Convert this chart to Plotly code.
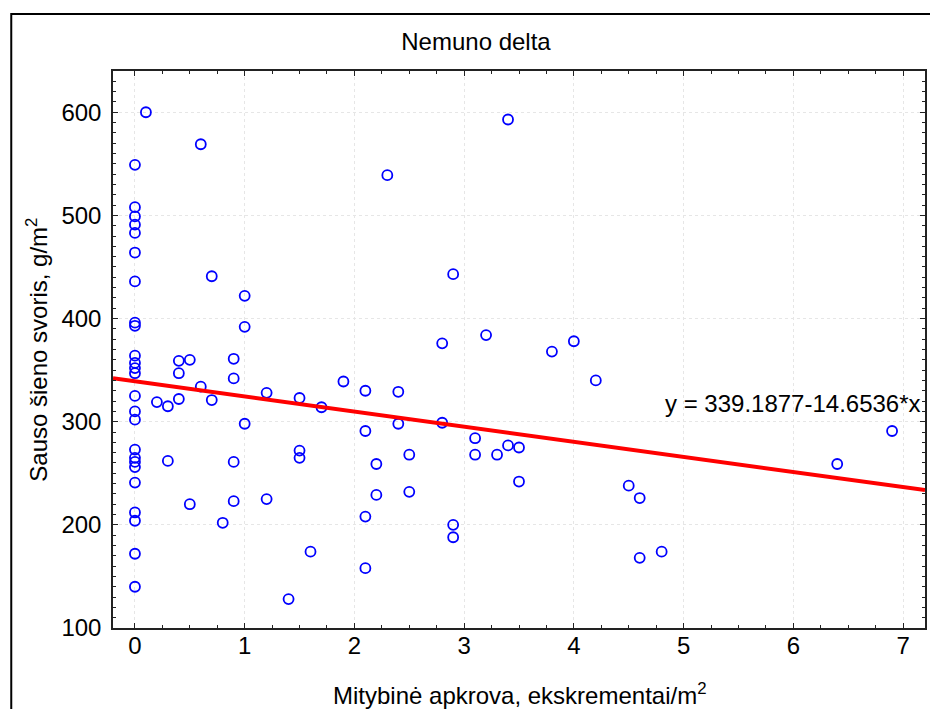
import plotly.graph_objects as go

# ---- data ----
x_vals = [0]*25 + [
    0.1, 0.6, 0.2, 0.3, 0.3, 0.4, 0.4, 0.4, 0.5, 0.5, 0.6, 0.7, 0.7, 0.8,
    0.9, 0.9, 0.9, 0.9, 1.0, 1.0, 1.0, 1.2, 1.2, 1.4, 1.5, 1.5, 1.5, 1.6,
    1.7, 1.9, 2.1, 2.1, 2.1, 2.1, 2.2, 2.2, 2.3, 2.4, 2.4, 2.5, 2.5, 2.8,
    2.8, 2.9, 2.9, 2.9, 3.1, 3.1, 3.2, 3.3, 3.4, 3.4, 3.5, 3.5, 3.8, 4.0,
    4.2, 4.5, 4.6, 4.6, 4.8, 6.4, 6.9]
y_vals = [
    549, 508, 499, 491, 483, 464, 436, 396, 393, 364, 357, 352, 347, 325,
    310, 302, 273, 265, 261, 256, 241, 212, 204, 172, 140,
    600, 569, 319, 315, 262, 359, 347, 322, 360, 220, 334, 441, 321, 202,
    361, 342, 261, 223, 422, 392, 298, 328, 225, 128, 323, 272, 265, 174,
    314, 339, 330, 291, 208, 158, 259, 229, 539, 329, 298, 268, 232, 376,
    299, 443, 200, 188, 284, 268, 384, 268, 593, 277, 275, 242, 368, 378,
    340, 238, 226, 168, 174, 259, 291]

intercept = 339.1877
slope = -14.6536
x_range = [-0.2, 7.2]
y_range = [100, 640]
x_ticks = [0, 1, 2, 3, 4, 5, 6, 7]
y_ticks = [100, 200, 300, 400, 500, 600]

title_text = "Nemuno delta"
x_title = "Mitybinė apkrova, ekskrementai/m<sup>2</sup>"
y_title = "Sauso šieno svoris, g/m<sup>2</sup>"
eq_text = "y = 339.1877-14.6536*x"

FONT = "Liberation Sans, Arial, sans-serif"
FS = 24
W, H = 930, 709

fig = go.Figure()
fig.add_trace(go.Scatter(
    x=x_vals, y=y_vals, mode="markers",
    marker=dict(symbol="circle-open", size=10, color="#0000ff",
                line=dict(width=1.8, color="#0000ff")),
    showlegend=False))

line_x = x_range
line_y = [intercept + slope * v for v in line_x]
fig.add_trace(go.Scatter(
    x=line_x, y=line_y, mode="lines",
    line=dict(color="#ff0000", width=4), showlegend=False))

axis_common = dict(
    showline=True, linecolor="#222222", linewidth=1.5, mirror="ticks",
    ticks="inside", ticklen=5, tickwidth=1, tickcolor="#222222",
    showgrid=True, gridcolor="#e6e6e6", griddash="dot", gridwidth=1,
    zeroline=False,
    tickfont=dict(family=FONT, size=FS, color="black"),
)

fig.update_xaxes(range=x_range, tickvals=x_ticks,
                 minor=dict(dtick=0.25, ticks="inside", ticklen=3,
                            tickcolor="#222222", showgrid=False),
                 ticklabelstandoff=-5, **axis_common)
fig.update_yaxes(range=y_range, tickvals=y_ticks,
                 minor=dict(dtick=10, ticks="inside", ticklen=3,
                            tickcolor="#222222", showgrid=False),
                 ticklabelstandoff=5, **axis_common)

fig.add_annotation(x=7.18, y=318, xref="x", yref="y", text=eq_text,
                   showarrow=False, xanchor="right", yanchor="middle",
                   font=dict(family=FONT, size=FS, color="black"))
fig.add_annotation(x=0.5, y=-0.1185, xref="paper", yref="paper", text=x_title,
                   showarrow=False, xanchor="center", yanchor="middle",
                   font=dict(family=FONT, size=FS, color="black"))
fig.add_annotation(x=-0.0946, y=0.5, xref="paper", yref="paper", text=y_title,
                   showarrow=False, xanchor="center", yanchor="middle",
                   textangle=-90,
                   font=dict(family=FONT, size=FS, color="black"))

# outer figure frame: only left and top edges are visible in the reference
fig.add_shape(type="path", xref="paper", yref="paper",
              path="M -0.1253,-0.3 L -0.1253,1.1023 L 1.2,1.1023",
              line=dict(color="black", width=2), layer="above")

fig.update_layout(
    width=W, height=H,
    margin=dict(l=113, r=3, t=71, b=81),
    paper_bgcolor="white", plot_bgcolor="white",
    title=dict(text=title_text, xref="container", yref="container",
               x=476 / W, y=1 - 42 / H, xanchor="center",
               yanchor="middle",
               font=dict(family=FONT, size=FS, color="black")),
)

fig.write_html(
    "out.html",
    config={"displayModeBar": False},
    post_script="document.body.style.margin='0';"
                "document.body.style.overflow='hidden';"
                "document.documentElement.style.overflow='hidden';",
)
